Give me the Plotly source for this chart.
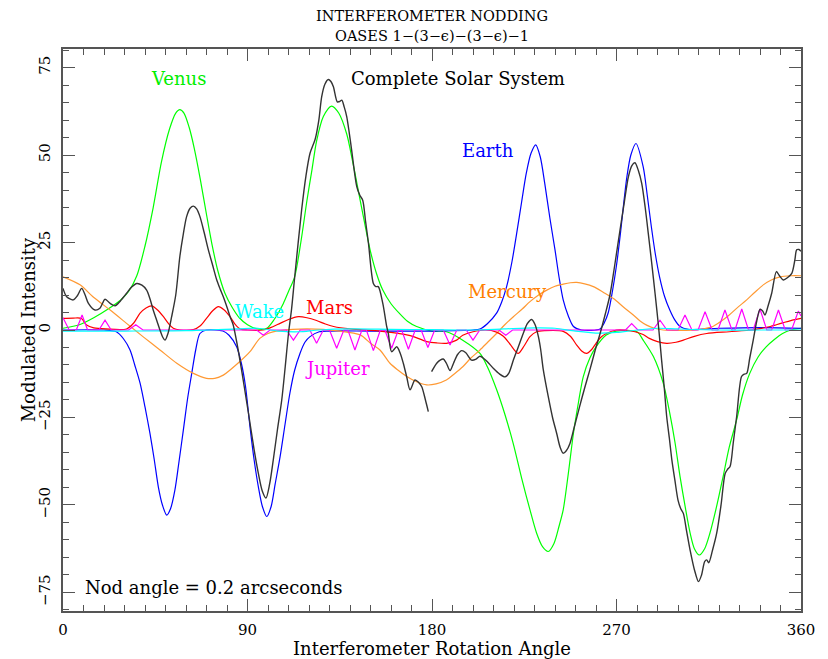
import plotly.graph_objects as go

# ---------------- data ----------------
venus_x = [0, 8, 15, 22, 28, 32, 36, 40, 44, 48, 52, 55, 57, 59, 61.5, 64, 67, 70, 72.5, 75.5, 79, 82.5, 86, 90, 95,
           99.4, 103, 107.5, 110, 113, 116, 119, 121.5, 123.7, 127, 131, 134.5, 138.4, 141, 144, 147, 149.8, 153, 156,
           160, 164, 168, 172.5, 180, 187, 195, 203.4, 207, 211.5, 215.5, 219.6, 224, 227.8, 231, 234, 236.7, 239.5,
           242, 244, 246.5, 249, 251.5, 253.8, 257, 260, 265, 270, 280, 283, 288, 292.8, 296, 298.5, 301, 303.5,
           305.9, 308, 310.4, 313, 315.6, 319, 322, 325, 328.6, 331.5, 335, 339, 343, 347, 351, 355, 360]
venus_y = [0.5, 1.5, 3.5, 6, 8.5, 11, 15.5, 24, 35, 48, 57.5, 62, 63, 62, 58, 52, 43, 33, 25, 17, 10.5, 6.5, 3.5, 1.5, 0.3,
           0.5, 3, 7.6, 11, 15.2, 25, 37, 46, 54, 61, 64, 62, 56, 49, 40, 31, 22.9, 16, 11.4,
           7.5, 4.8, 2.5, 1, -0.3, -0.5, -2.9, -6.7, -10.5, -17, -24, -32.4, -43, -51.4, -58, -62, -63.3, -61,
           -56, -51.4, -41, -29.5, -20.5, -13.3, -8, -4.8, -1.4, -0.3, -0.5, -2.9, -7.6, -15.2, -23.8, -32, -41.9, -50.5,
           -58, -62.5, -64.3, -62.5, -58, -50, -41.9, -33.5, -25.7, -18.5, -12.4, -7.8, -4.8, -2.7, -1, 0, 0.5]

earth_x = [0, 20, 26, 29.5, 32.7, 35, 37.6, 40, 42.4, 44.5, 46.5, 48.5, 50.6, 52.5, 54.6, 56.5, 58.7, 60.8, 62.8, 64.8,
           66.8, 70, 78, 81, 84.7, 87, 89, 91.2, 93.2, 95.3, 97.3, 99.4, 101.5, 103.5, 105.9, 108.3, 110.7, 113, 115.6,
           118, 120.5, 125, 130, 150, 180, 200, 203.4, 207, 211.5, 214, 216.4, 219, 221.3, 223.7, 226, 228.3, 230.6,
           232.8, 235, 237.5, 240, 242, 244, 246.5, 249, 253, 262, 264, 266, 268, 270, 272, 273.3, 275, 277, 279.5,
           283, 285, 287, 289, 291, 293.5, 296, 298.5, 301, 305, 320, 340, 360]
earth_y = [0, 0, -0.5, -2.5, -5.7, -10, -15.2, -22, -29.5, -37, -44.8, -50, -52.9, -51, -45.7, -38, -28.6, -19.5, -12.4, -5.5,
           -1, 0, -0.3, -1.5, -4.8, -9.5, -16, -27.6, -37, -44.8, -50.5, -53.3, -50.5, -44, -36.2, -27, -18, -11.5, -6.7,
           -3.5, -1.9, -0.5, -0.3, -0.3, -0.3, 0, 0.3, 1.8, 4.8, 8, 12.4, 19.5, 27.6, 36.5, 44.8, 50.5, 52.9,
           49.5, 41.9, 32, 22.9, 15, 8.6, 4, 1, 0, 0.3, 2, 5, 11, 18.5, 28, 35, 43.5, 50, 53.3,
           46.7, 38.5, 29.5, 21.5, 15.2, 9.5, 5.7, 2.8, 1, 0.2, 0.5, 0.7, 0.5]

mars_x = [0, 5, 9, 11.5, 15, 21, 31, 34.5, 37.6, 40.5, 43.3, 46, 49, 51.5, 53.8, 57, 63.6, 67, 70, 73, 75.8, 78.5, 81.5,
          84, 86.3, 90, 97.6, 101, 105.9, 110, 114.8, 119, 123.7, 128, 132, 140, 154.6, 160, 167.7, 171, 177.4, 182.3,
          187, 192, 195, 200, 206, 211.5, 214.8, 218, 222, 225, 227.8, 231, 235, 244, 247.5, 250.6, 253, 255.4, 258,
          260, 262.5, 265, 270, 279, 283, 286, 290, 294.5, 299, 302.6, 308, 314, 325, 336, 341, 345, 348, 351.4, 355, 360]
mars_y = [3.3, 3.4, 3.3, 1.4, 0.6, 0.3, 0.3, 2, 4.8, 6.3, 6.9, 5.8, 3.8, 1.8, 0.5, 0, 0.1, 1.2, 3.3, 5.5, 6.7, 5.8, 3.8,
          1.6, 0.3, 0, 0, 0.6, 1.9, 3, 3.8, 3.5, 2.7, 1.7, 1, 0.3, -0.3, -0.7, -1.4, -1.9, -3.3, -3.7,
          -3.8, -2.9, -1.5, -0.5, 0, -0.6, -1.8, -4, -6.7, -4.5, -1.9, -0.5, -0.2, -0.4, -1.8, -4.3, -6, -6.7, -5.5,
          -3.8, -2, -1, 0, -0.5, -1.3, -2.4, -3.3, -3.8, -3.5, -2.9, -1.8, -1, -0.5, 0, 0.5, 1, 1.5, 2.1, 2.7, 3.3]

jupiter_x = [0, 1.5, 3, 6.5, 9.3, 12, 17.5, 20.5, 23.5, 32, 35.5, 39, 94.5, 97.7, 101, 109, 112.4, 115.7, 120.4, 123.7,
             127, 130, 133.5, 137, 139, 142.4, 145.8, 148, 151.4, 154.8, 157, 160.3, 163.6, 165.2, 168.5, 171.8, 174.7,
             178, 181.3, 185.5, 188.8, 192.1, 196.7, 200, 203.3, 212.7, 216, 219.3, 274.4, 277.4, 280.4, 287.8, 291.2,
             294.6, 300, 303.4, 306.8, 309.8, 313.2, 316.6, 319.5, 322.9, 326.3, 327.8, 331.1, 334.4, 336.7, 340, 343.3,
             345.7, 349, 352.3, 355.4, 358.7, 360]
jupiter_y = [3.5, 1.5, 0, 0, 4.3, 0, 0, 2.8, 0, 0, 1.5, 0, 0, -1.5, 0, 0, -2.9, 0, 0, -3.8,
             0, 0, -5.2, 0, 0, -5.7, 0, 0, -5.9, 0, 0, -5.2, 0, 0, -5.5, 0, 0,
             -5, 0, 0, -4.3, 0, 0, -2.9, 0, 0, -1.5, 0, 0, 1.8, 0, 0, 2.8,
             0, 0, 4.3, 0, 0, 5.2, 0, 0, 5.7, 0, 0, 6, 0, 0, 6, 0,
             0, 5.7, 0, 0, 5.4, 4]

mercury_x = [0, 8.3, 14.6, 23, 31, 39, 47.3, 55.5, 63.6, 70, 74, 78.2, 86.3, 91.2, 96, 100, 105.9, 119, 135, 145, 150,
             154.6, 159.5, 163.5, 167.7, 172.5, 177.4, 182, 187, 191, 195, 199, 203.4, 207.5, 211.5, 215.5, 219.7, 224,
             227.8, 232, 236, 240, 244, 247.5, 250.6, 254.5, 258.7, 263.5, 268.5, 273.5, 278.2, 281.5, 284.7, 288.5,
             292.8, 309, 313, 317, 321, 325, 329, 333.5, 337.5, 341.6, 345.5, 349.8, 355, 360]
mercury_y = [15.2, 12.9, 9.5, 5.7, 1.9, -1.9, -5.7, -9.5, -12.4, -13.8, -13.8, -12.9, -9, -6.2, -2.4, -1, -0.2, 0.3, -0.3,
             -1.4, -3.8, -5.7, -9.5, -11.5, -13.3, -14.8, -15.7, -15.4, -14.3, -12.5, -10.5, -8, -5.7, -3.3, -1, 1.5,
             3.8, 6, 8.1, 10, 11.4, 12.5, 13.1, 13.5, 13.6, 13.2, 12.4, 10.8, 9, 6.5, 4.3, 2.6, 1.4, 0.5,
             0, 0, 0.4, 1, 2.5, 4.3, 6.4, 8.6, 10.8, 12.9, 14.3, 15.2, 15.5, 15.5]

wake_x = [0, 30, 60, 85, 95, 105, 115, 125, 140, 160, 180, 200, 215, 230, 240, 250, 262, 270, 280, 290, 300, 320, 340, 360]
wake_y = [-0.3, -0.3, -0.2, 0.3, 0.5, -0.3, -0.5, 0, 0.3, 0.2, 0.1, 0, 0.3, 0.6, 0.5, -0.3, -0.9, -0.7, 0, 0.5, 0.3, 0,
          0, 0]

css_x1 = [0, 1.8, 5, 7, 9.1, 10.8, 12.4, 15.6, 18, 20.5, 23, 25.4, 28, 31, 33.5, 36, 38.5, 40.8, 42.5, 44, 45.7, 47.3,
          48.6, 49.8, 51.2, 53, 55, 57, 58.7, 60.3, 62, 63.6, 65.2, 66.8, 68.8, 70.9, 73, 75, 76.6, 78.2, 80, 81.5, 83,
          84.6, 86.3, 88.5, 90.4, 93.3, 95.3, 97.2, 99, 100.8, 102.6, 104.6, 106.7, 108.4, 110, 111.5, 113, 116.4,
          118.5, 120.5, 123, 124.8, 126.2, 127.8, 129.4, 130.7, 131.9, 133.8, 135, 136, 137.2, 138.4, 139.6, 140.8,
          143.3, 144.8, 146.2, 147.6, 149, 151.4, 152.6, 153.8, 156, 157.9, 158.7, 160.3, 162.8, 164.4, 166, 167.7,
          169.3, 171.7, 173.5, 175, 176.8, 178.2]
css_y1 = [11.9, 9.5, 8.6, 9.8, 11.9, 10, 7.6, 5.7, 6.2, 8.8, 7.6, 6.9, 8.3, 10.5, 12.3, 13.3, 12.8, 11.4, 8.8, 5.7, 2.8, 0,
          -2, -2.9, -1, 3.8, 10, 21, 27.5, 32.4, 34.8, 35.4, 34.6, 32.4, 28, 22.9, 18.5, 14.3, 11.8, 9.5, 6.5, 3.8, 1.5,
          -3, -8.6, -16.5, -23.5, -34.5, -41, -46, -48, -44, -37, -28.5, -20, -10.5, -1, 6, 15, 34.3,
          44, 50.5, 54.5, 60, 66.7, 70.3, 71.6, 71, 69.5, 65.2, 65.3, 65.7, 63.7, 61, 56.5, 51.4,
          41, 38.5, 37.1, 31, 24.8, 13.3, 12.4, 12.4, 7.6, 1, -1, -6.2, -4.8, -6.5, -9.5, -13.5,
          -17.1, -14.3, -15, -16.2, -20, -23.3]
css_x2 = [179.8, 182.3, 184, 185.5, 187, 188.8, 190.5, 192.5, 194.5, 196.5, 199.3, 201.5, 203.4, 206, 210, 213, 215.6,
          217.5, 219.7, 222, 224.5, 226.5, 228.6, 230.3, 231.9, 233, 234.3, 236.7, 238.8, 240.8, 242.5, 244, 245.5,
          247.3, 249.5, 252, 254.5, 257, 259.5, 262, 264.5, 266.8, 269, 271.7, 273.8, 275.8, 277.5, 279, 280.7, 282.3,
          284, 285.5, 287.2, 288.8, 290.5, 292, 293.3, 294.5, 295.8, 297, 298.5, 300, 301.3, 302.6, 304.2, 305.9, 308,
          310, 311.5, 313, 314, 315, 316.8, 318.9, 321, 323, 324.2, 325.4, 327, 328.6, 331, 332.3, 333.5, 335, 336.7,
          338.4, 340, 341.2, 342.4, 344, 345.7, 348, 349.5, 351.4, 353.5, 355.5, 357, 357.9, 359, 360]
css_y2 = [-11.9, -9.5, -8.6, -8.3, -9.5, -11.6, -9.5, -7, -5.9, -6.5, -8.6, -8.3, -7.5, -8.5, -11, -12.6, -13.4,
          -12.3, -8.6, -5, -1, 1.8, 3, 1.5, -1.9, -5.5, -11.4, -19, -25, -29.5, -33.5, -35.2, -34.5,
          -32.4, -27.5, -21.9, -16.5, -11.4, -6, -1, 4.5, 10, 18, 28.5, 36.5, 43.8, 47, 47.8, 45.5, 41.9,
          35, 27.6, 19, 10.5, 1, -8.6, -16.5, -24.8, -31, -37.1, -43, -48.6, -51, -52.4, -57.5, -62.9, -68.5,
          -71.9, -70, -66.2, -65.7, -66.5, -63, -58, -50, -41, -39.8, -39, -32, -24.8, -13.3, -12.6, -12.4, -8, -2.9,
          2.5, 5.9, 5.5, 4.3, 7, 10.5, 16.7, 15.5, 14.3, 15, 16.2, 20, 22.9, 23, 22.5]

x_ticks = [0, 90, 180, 270, 360]
y_ticks = [-75, -50, -25, 0, 25, 50, 75]

# ---------------- figure ----------------
FONT = "DejaVu Serif"
AXC = "#555555"

fig = go.Figure()

def add(x, y, color, shape="spline", width=1.2):
    fig.add_trace(go.Scatter(x=x, y=y, mode="lines",
                             line=dict(color=color, width=width, shape=shape, smoothing=0.8),
                             hoverinfo="skip", showlegend=False, connectgaps=False))

add(venus_x, venus_y, "#00ff00")
add(earth_x, earth_y, "#0000ff")
add(mercury_x, mercury_y, "#ff9933")
add(mars_x, mars_y, "#ff0000")
add(jupiter_x, jupiter_y, "#ff00ff", shape="linear")
add(wake_x, wake_y, "#00ffff")
add(css_x1 + [None] + css_x2, css_y1 + [None] + css_y2, "#333333", width=1.4)

labels = [
    ("Venus", 56.5, 72, "#00ee00", "center"),
    ("Complete Solar System", 192.7, 72, "#000000", "center"),
    ("Earth", 207.3, 51.4, "#0000ff", "center"),
    ("Mercury", 216.6, 11.1, "#ff8000", "center"),
    ("Wake", 96, 5.4, "#00ffff", "center"),
    ("Mars", 129.8, 6.3, "#ff0000", "center"),
    ("Jupiter", 134, -10.9, "#ff00ff", "center"),
    ("Nod angle = 0.2 arcseconds", 9.8, -73.7, "#000000", "left"),
]
for txt, lx, ly, col, anc in labels:
    fig.add_annotation(x=lx, y=ly, xref="x", yref="y", text=txt, showarrow=False,
                       xanchor=anc, yanchor="middle", font=dict(family=FONT, size=18, color=col))

# titles
fig.add_annotation(x=0.5, y=1.0587, xref="paper", yref="paper", text="INTERFEROMETER NODDING", showarrow=False,
                   xanchor="center", yanchor="middle", font=dict(family=FONT, size=14.5, color="#000"))
fig.add_annotation(x=0.5, y=1.0231, xref="paper", yref="paper", text="OASES 1−(3−ϵ)−(3−ϵ)−1", showarrow=False,
                   xanchor="center", yanchor="middle", font=dict(family=FONT, size=14.5, color="#000"))
fig.add_annotation(x=0.5, y=-0.066, xref="paper", yref="paper", text="Interferometer Rotation Angle",
                   showarrow=False, xanchor="center", yanchor="middle",
                   font=dict(family=FONT, size=18, color="#000"))
fig.add_annotation(x=-0.047, y=0.5, xref="paper", yref="paper", text="Modulated Intensity", textangle=-90,
                   showarrow=False, xanchor="center", yanchor="middle",
                   font=dict(family=FONT, size=18, color="#000"))

# the page places the figure 8 px from the top-left corner
fig.update_layout(
    width=820, height=651,
    margin=dict(l=55, r=27, t=41, b=48),
    plot_bgcolor="white", paper_bgcolor="white",
    showlegend=False,
    xaxis=dict(range=[0, 360], tickvals=x_ticks, ticktext=[str(v) for v in x_ticks],
               showgrid=False, zeroline=False, showline=True, linecolor=AXC, linewidth=1.5,
               mirror="ticks", ticks="inside", ticklen=12, tickwidth=1, tickcolor=AXC,
               ticklabelstandoff=4,
               tickfont=dict(family=FONT, size=15, color="#000"),
               minor=dict(dtick=10, tick0=0, ticks="inside", ticklen=6, tickwidth=1, tickcolor=AXC)),
    yaxis=dict(range=[-80.3, 80.3], tickvals=y_ticks, ticktext=[str(v).replace("-", "−") for v in y_ticks],
               tickangle=-90, ticklabelstandoff=5,
               showgrid=False, zeroline=False, showline=True, linecolor=AXC, linewidth=1.5,
               mirror="ticks", ticks="inside", ticklen=12, tickwidth=1, tickcolor=AXC,
               tickfont=dict(family=FONT, size=15, color="#000"),
               minor=dict(dtick=5, tick0=0, ticks="inside", ticklen=6, tickwidth=1, tickcolor=AXC)),
)

fig.write_html("out.html")
